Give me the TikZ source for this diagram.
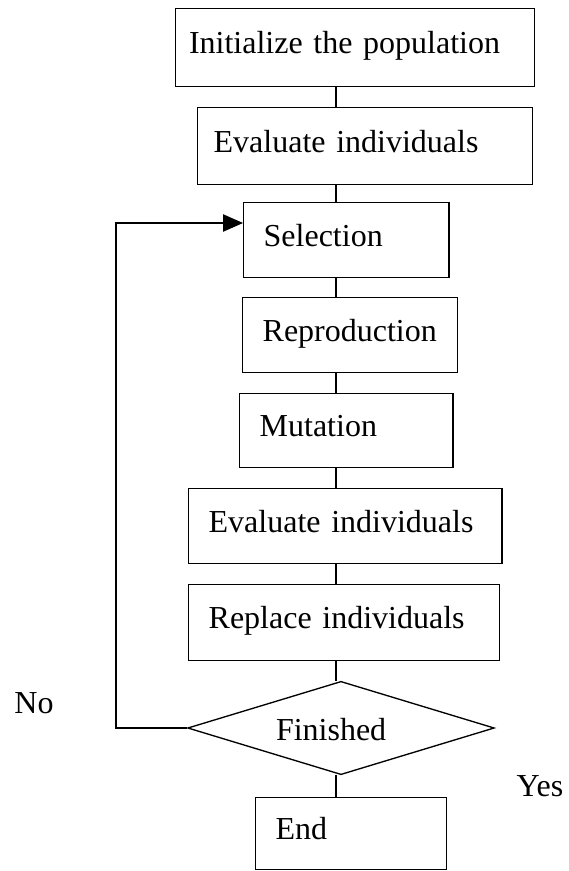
\documentclass[tikz,border=0pt]{standalone}
\usepackage{fontspec}
\setmainfont{Liberation Serif}
\usetikzlibrary{arrows.meta,positioning,shapes.geometric}
\tikzset{
  stepbox/.style={
    rectangle, draw=black, line width=1pt, anchor=north west,
    align=left, inner xsep=15pt, inner ysep=0pt,
    text height=19pt, text depth=10pt,
    font=\fontsize{24}{28}\selectfont
  },
  testbox/.style={
    diamond, aspect=3.3, draw=black, line width=1pt, inner sep=0pt,
    minimum width=230pt, minimum height=70pt,
    text width=97.5pt, align=left,
    text height=24pt, text depth=6pt,
    font=\fontsize{24}{28}\selectfont
  },
  sidelabel/.style={font=\fontsize{24}{28}\selectfont},
  flowline/.style={line width=1pt},
  backarrow/.style={line width=1pt, -{Triangle[length=15pt,width=13pt]}},
}
\begin{document}
\begin{tikzpicture}[x=0.75pt, y=-0.75pt]
  \useasboundingbox (0,0) rectangle (568,871);
  \coordinate (spine) at (336,0);
  \coordinate (back) at (116,223);
  \node[stepbox, inner xsep=10pt, text width=249pt, minimum height=58.5pt] (init) at (175,8) {Initialize the population};
  \node[stepbox, inner xsep=12pt, text width=227pt, minimum height=57.75pt] (eval) at (197,107) {Evaluate individuals};
  \node[stepbox, text width=124pt, minimum height=56.25pt] (select) at (243,202) {Selection};
  \node[stepbox, text width=131pt, minimum height=56.25pt] (repro) at (242,297) {Reproduction};
  \node[stepbox, text width=130pt, minimum height=55.5pt] (mutate) at (239,393) {Mutation};
  \node[stepbox, text width=205pt, minimum height=56.25pt] (reeval) at (188,488) {Evaluate individuals};
  \node[stepbox, text width=203pt, minimum height=57pt] (replace) at (188,584) {Replace individuals};
  \node[testbox] (done) at (341,728) {Finished};
  \node[stepbox, text width=113pt, minimum height=54pt] (stop) at (255,797) {End};
  \node[sidelabel] (no) at (34,703) {No};
  \node[sidelabel] (yes) at (540,786) {Yes};
  \foreach \a/\b in {init/eval,eval/select,select/repro,repro/mutate,mutate/reeval,reeval/replace,replace/done,done/stop}
    \draw[flowline] (\a.south -| spine) -- (\b.north -| spine);
  \draw[backarrow] (done.west) -| (back) -- (back -| select.west);
\end{tikzpicture}
\end{document}
